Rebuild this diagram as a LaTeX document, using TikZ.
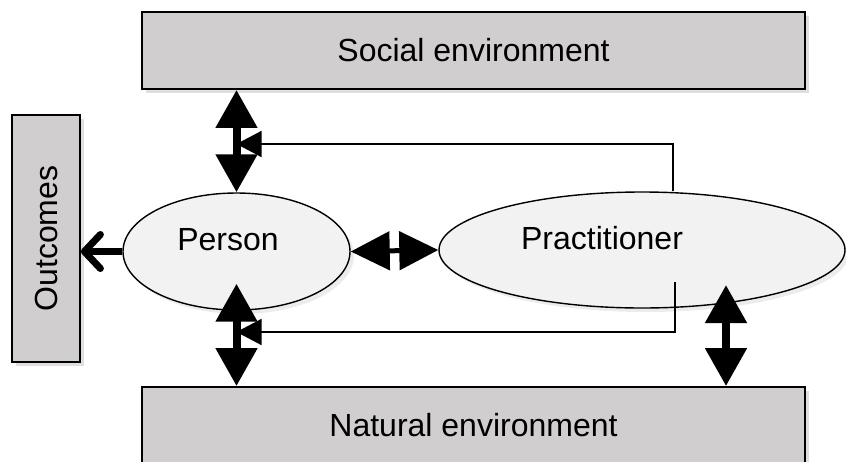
\documentclass[tikz,border=0pt]{standalone}
\usepackage{fontspec}
\setmainfont{Liberation Sans}
\usepackage{xcolor}
\usepackage{tikz}
\usetikzlibrary{arrows.meta,shapes.geometric,shadows,calc}

\definecolor{boxgray}{RGB}{208,206,207}
\definecolor{ovalgray}{RGB}{242,242,242}

\begin{document}
\begin{tikzpicture}[
                        x=1pt, y=-1pt,
                        every node/.style={
                                font=\fontsize{32}{38}\selectfont,
                            },
                        envbox/.style={
                                draw, line width=1.8pt, fill=boxgray,
                                minimum width=663pt, minimum height=77pt,
                                drop shadow={opacity=0.25,shadow xshift=4pt,shadow yshift=-4pt},
                            },
                        oval/.style={
                                ellipse, draw, line width=1.4pt, fill=ovalgray, inner sep=0pt,
                                drop shadow={opacity=0.15,shadow xshift=4pt,shadow yshift=-4pt},
                            },
                        bigarrow/.style={
                                line width=8pt,
                                {Triangle[length=38pt,width=40pt]}-{Triangle[length=38pt,width=40pt]},
                            },
                        feedback/.style={
                                line width=1.5pt,
                                -{Triangle[length=25pt,width=26pt]},
                            },
                    ]

                    \useasboundingbox (0,0) rectangle (846,461);

                    \node[envbox] (social) at (473.5,50.5) {Social environment};
                    \node[envbox] (natural) at (473.5,425.5) {Natural environment};
                    \node[envbox, minimum width=68pt, minimum height=247pt] (outcomes) at (46,238.5) {\rotatebox{90}{Outcomes}};

                    \node[oval, minimum width=227pt, minimum height=117pt] (person) at (236.5,251.5) {};
                    \node (personlbl) at (228,240) {Person};
                    \node[oval, minimum width=406pt, minimum height=116pt] (prac) at (642,250) {};
                    \node (praclbl) at (602,238) {Practitioner};

                    \coordinate (fbhigh) at (0,144);
                    \coordinate (fblow) at (0,332);
                    \coordinate (fbstart) at ($(prac.center)+(33,32)$);
                    \coordinate (pracfoot) at ($(prac.center)+(84,35)$);

                    \draw[feedback] ($(prac.north)+(31,0)$) |- (person.north |- fbhigh);
                    \draw[feedback] (fbstart) |- (person.south |- fblow);

                    \draw[bigarrow] (social.south -| person.north) -- (person.north);
                    \draw[bigarrow] ([yshift=27pt]person.south) -- (person.south |- natural.north);
                    \draw[bigarrow] (pracfoot) -- (pracfoot |- natural.north);
                    \draw[line width=5pt, {Triangle[length=39pt,width=38pt]}-{Triangle[length=39pt,width=38pt]}] (person.east) -- (prac.west);

                    \draw[line width=7pt, -{Straight Barb[length=16pt,width=34pt,round]}] (person.west) -- (person.west -| outcomes.east);
                \end{tikzpicture}
\end{document}
